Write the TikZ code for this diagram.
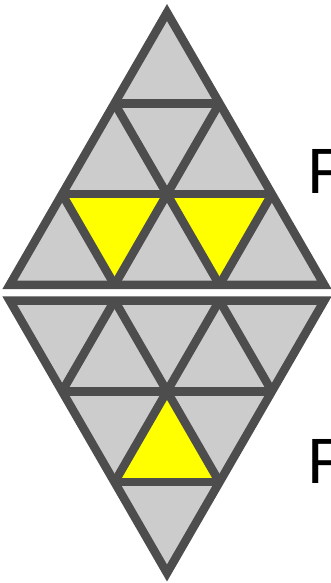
\documentclass[tikz,border=0pt]{standalone}
\usepackage{fontspec}
\setmainfont{Liberation Sans}
\definecolor{trifill}{HTML}{CCCCCC}
\definecolor{edgecol}{HTML}{4D4D4D}
\definecolor{hlfill}{HTML}{FFFF00}
\begin{document}
\begin{tikzpicture}[x=1pt,y=-1pt,
  graytri/.style={fill=trifill},
  yellowtri/.style={fill=hlfill},
  edge/.style={draw=edgecol,line width=8.5pt,line join=miter,line cap=butt},
  label/.style={anchor=base west,inner sep=0pt,font=\fontsize{64}{64}\selectfont}]
\useasboundingbox (0,0) rectangle (330,583);
\def\s{104.9}
\def\h{90.83}
\def\hl{90.83}
% lattice points, upper triangle
\foreach \k in {0,...,3}{
  \foreach \j in {0,...,\k}{
    \coordinate (u-\k-\j) at ({167-\k*\s/2+\j*\s},{12.5+\k*\h});
  }
}
% lattice points, lower triangle
\foreach \k in {0,...,3}{
  \pgfmathtruncatemacro\n{3-\k}
  \foreach \j in {0,...,\n}{
    \coordinate (l-\k-\j) at ({167-\n*\s/2+\j*\s},{300.5+\k*\hl});
  }
}
% fills
\fill[graytri] (u-0-0) -- (u-3-0) -- (u-3-3) -- cycle;
\fill[graytri] (l-0-0) -- (l-0-3) -- (l-3-0) -- cycle;
\fill[yellowtri] (u-2-0) -- (u-2-1) -- (u-3-1) -- cycle;
\fill[yellowtri] (u-2-1) -- (u-2-2) -- (u-3-2) -- cycle;
\fill[yellowtri] (l-1-1) -- (l-2-0) -- (l-2-1) -- cycle;
% upper edges
\draw[edge] (u-1-0) -- (u-1-1);
\draw[edge] (u-2-0) -- (u-2-2);
\draw[edge] (u-1-0) -- (u-3-2);
\draw[edge] (u-2-0) -- (u-3-1);
\draw[edge] (u-1-1) -- (u-3-1);
\draw[edge] (u-2-2) -- (u-3-2);
\draw[edge] (u-0-0) -- (u-3-0) -- (u-3-3) -- cycle;
% lower edges
\draw[edge] (l-1-0) -- (l-1-2);
\draw[edge] (l-2-0) -- (l-2-1);
\draw[edge] (l-0-1) -- (l-1-0);
\draw[edge] (l-0-2) -- (l-2-0);
\draw[edge] (l-0-1) -- (l-2-1);
\draw[edge] (l-0-2) -- (l-1-2);
\draw[edge] (l-0-0) -- (l-0-3) -- (l-3-0) -- cycle;
% labels
\node[label] (fa) at (307,193) {F};
\node[label] (fb) at (307,483) {F};
\end{tikzpicture}
\end{document}
